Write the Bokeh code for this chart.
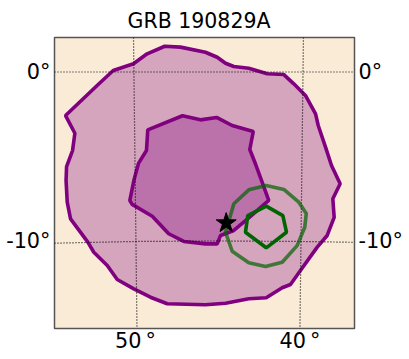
from bokeh.plotting import figure
from bokeh.models import Range1d, FixedTicker, LinearAxis
from bokeh.embed import file_html
from bokeh.resources import INLINE

title = "GRB 190829A"
ra_ticks = [50, 40.1]
ra_labels = {50: "50\u2009°", 40.1: "40\u2009°"}
dec_ticks = [0, -9.88]
dec_labels = {0: "0°", -9.88: "-10°"}

outer_ra = [54.21,53.65,53.79,54.15,54.18,54.11,53.91,52.87,52.51,51.70,51.10,50.10,49.10,48.09,45.79,44.58,43.18,42.13,41.17,40.67,40.07,39.06,38.46,38.04,38.12,37.68,38.20,38.56,39.00,39.16,39.77,40.47,41.07,42.07,43.18,44.08,44.58,45.08,45.79,47.29,48.24,49.30,50.12,51.34,52.31]
outer_dec = [-2.54,-3.57,-4.58,-5.51,-6.33,-7.59,-8.56,-9.92,-10.51,-11.28,-12.10,-12.64,-13.13,-13.51,-13.57,-13.48,-13.22,-13.16,-12.58,-12.39,-11.57,-10.21,-9.53,-8.47,-7.39,-6.52,-5.45,-4.38,-3.12,-2.44,-1.37,-0.69,-0.15,-0.10,0.22,0.32,0.51,0.86,1.15,1.45,1.50,1.06,0.48,0.09,-0.79]

inner_ra = [49.26,47.17,46.09,45.12,44.18,42.91,43.12,42.78,42.41,41.98,43.18,44.08,44.88,45.08,45.79,47.09,48.00,48.99,50.20,50.34,50.10,49.82,49.34]
inner_dec = [-3.37,-2.55,-2.79,-2.65,-3.12,-3.47,-4.52,-5.35,-6.33,-7.49,-8.50,-9.24,-9.53,-10.02,-10.02,-9.88,-9.43,-8.41,-7.72,-7.49,-6.33,-5.33,-4.58]

green_in_ra = [42.13,41.13,40.91,42.13,43.38,43.24]
green_in_dec = [-7.82,-8.37,-9.34,-10.25,-9.34,-8.37]

green_out_ra = [42.13,41.07,40.17,39.72,39.81,40.27,41.17,42.17,43.18,44.18,44.58,44.08,43.18]
green_out_dec = [-6.62,-6.85,-7.59,-8.25,-9.05,-10.12,-11.09,-11.34,-11.12,-10.45,-9.34,-7.68,-6.87]

star_ra = [44.54]
star_dec = [-8.81]

grid_50_ra = [50.12, 49.91]
grid_50_dec = [2.011, -14.954]
grid_40_ra = [39.89, 40.10]
grid_40_dec = [2.011, -14.954]
grid_0_ra = [54.876, 36.816]
grid_0_dec = [0, 0]
grid_m10_ra = [54.876, 50, 45, 40, 36.816]
grid_m10_dec = [-9.98, -9.88, -9.85, -9.88, -9.93]

p = figure(width=393, height=343, frame_width=300, frame_height=291,
           output_backend="svg", toolbar_location=None, margin=(6, 0, 0, 3),
           x_range=Range1d(54.876, 36.816), y_range=Range1d(-14.954, 2.011),
           title=title, min_border_left=0, min_border_right=0, min_border_top=0,
           min_border_bottom=0, background_fill_color="#FAEBD7",
           outline_line_color="#555555", outline_line_width=1.5, x_axis_location="below")
p.border_fill_color = "white"
p.title.align = "left"
p.title.offset = 73
p.title.text_font = "DejaVu Sans"
p.title.text_font_size = "20.5px"
p.title.text_font_style = "normal"
p.title.text_color = "black"
p.title.vertical_align = "top"
p.title.standoff = 5
p.grid.visible = False

right = LinearAxis()
p.add_layout(right, "right")
for ax, ticks, labels in ((p.xaxis[0], ra_ticks, ra_labels), (p.yaxis[0], dec_ticks, dec_labels), (right, dec_ticks, dec_labels)):
    ax.ticker = FixedTicker(ticks=ticks)
    ax.major_label_overrides = labels
    ax.major_label_text_font = "DejaVu Sans"
    ax.major_label_text_font_size = "20.8px"
    ax.major_label_text_color = "black"
    ax.major_label_standoff = 4
    ax.major_tick_in = 0
    ax.major_tick_out = 0
    ax.minor_tick_in = 0
    ax.minor_tick_out = 0
    ax.major_tick_line_color = None
    ax.minor_tick_line_color = None
    ax.axis_line_color = None
p.xaxis[0].major_label_standoff = 0
p.yaxis[0].major_label_orientation = "horizontal"
right.major_label_orientation = "horizontal"

p.patch(outer_ra, outer_dec, fill_color="purple", fill_alpha=0.3, line_color="purple", line_width=3.6)
p.patch(inner_ra, inner_dec, fill_color="purple", fill_alpha=0.3, line_color="purple", line_width=3.6)
for xs, ys in ((grid_50_ra, grid_50_dec), (grid_40_ra, grid_40_dec), (grid_0_ra, grid_0_dec), (grid_m10_ra, grid_m10_dec)):
    p.line(xs, ys, line_color="black", line_width=1.2, line_dash="1 2")
p.patch(green_out_ra, green_out_dec, fill_alpha=0, line_color="darkgreen", line_width=3.6, line_alpha=0.7)
p.patch(green_in_ra, green_in_dec, fill_alpha=0, line_color="darkgreen", line_width=3.6)
p.scatter(star_ra, star_dec, marker="star", size=21, fill_color="black", line_color="black")

open("out.html", "w").write(file_html(p, INLINE))
